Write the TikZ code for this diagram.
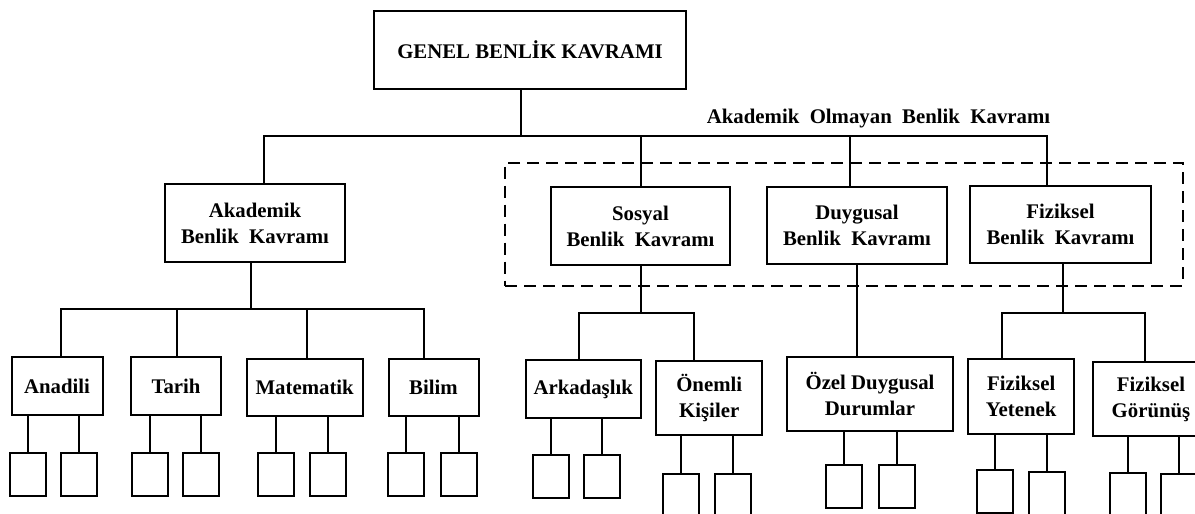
\documentclass[tikz,border=0pt]{standalone}
\usepackage{fontspec}
\setmainfont{Liberation Serif}
\newcommand\wsp{\hspace{0.5em}}
\tikzset{
  box/.style={draw, line width=2pt, inner sep=0pt, align=center,
    font=\bfseries\fontsize{20.8}{26}\selectfont},
  leaf/.style={draw, line width=2pt, minimum width=36pt, minimum height=43pt,
    inner sep=0pt, anchor=north},
  link/.style={line width=2pt},
  group/.style={draw, line width=2pt, dash pattern=on 12pt off 7pt, inner sep=0pt},
  caption/.style={inner sep=0pt, font=\bfseries\fontsize{20.8}{26}\selectfont},
}
\begin{document}
\begin{tikzpicture}[x=1pt,y=-1pt]
\clip (0,0) rectangle (1195,514);

% main concept
\node[box, minimum width=312pt, minimum height=78pt] (genel) at (530,50) {GENEL BENLİK KAVRAMI};

% second level
\node[box, minimum width=180pt, minimum height=78pt] (akad) at (255,223) {Akademik\\Benlik\wsp Kavramı};
\node[group, minimum width=677.4pt, minimum height=123pt] (nonacad) at (844,224) {};
\node[caption, anchor=base west] (nonacadlbl) at (706.7,123.3) {Akademik\wsp Olmayan\wsp Benlik\wsp Kavramı};
\node[box, minimum width=179pt, minimum height=78pt] (sosyal) at (640.5,226) {Sosyal\\Benlik\wsp Kavramı};
\node[box, minimum width=180pt, minimum height=77pt] (duyg) at (857,225.5) {Duygusal\\Benlik\wsp Kavramı};
\node[box, minimum width=181pt, minimum height=77pt] (fiz) at (1060.5,224.5) {Fiziksel\\Benlik\wsp Kavramı};

% third level
\node[box, minimum width=91pt, minimum height=58pt] (anadili) at (57,386) {Anadili};
\node[box, minimum width=90pt, minimum height=58pt] (tarih) at (176,386) {Tarih};
\node[box, minimum width=116pt, minimum height=57pt] (mat) at (304.7,387.7) {Matematik};
\node[box, minimum width=90pt, minimum height=57pt] (bilim) at (433.5,387.5) {Bilim};
\node[box, minimum width=115pt, minimum height=58pt] (arkadas) at (583.2,389) {Arkadaşlık};
\node[box, minimum width=106pt, minimum height=74pt] (onemli) at (709.2,397.8) {Önemli\\Kişiler};
\node[box, minimum width=166.6pt, minimum height=73.7pt] (ozel) at (870,393.8) {Özel Duygusal\\Durumlar};
\node[box, minimum width=105.7pt, minimum height=75pt] (yetenek) at (1021.2,396.5) {Fiziksel\\Yetenek};
\node[box, minimum width=117pt, minimum height=74pt] (gorunus) at (1151,399) {Fiziksel\\Görünüş};

% empty leaves
\node[leaf] (an1) at (27.7,451.5) {};
\node[leaf] (an2) at (79.3,451.5) {};
\node[leaf] (ta1) at (149.7,451.5) {};
\node[leaf] (ta2) at (201,451.5) {};
\node[leaf] (ma1) at (275.7,452) {};
\node[leaf] (ma2) at (328.3,452) {};
\node[leaf] (bi1) at (405.7,452) {};
\node[leaf] (bi2) at (458.7,452) {};
\node[leaf] (ar1) at (550.7,454) {};
\node[leaf] (ar2) at (602.3,454) {};
\node[leaf] (on1) at (681,472.7) {};
\node[leaf] (on2) at (733.3,472.7) {};
\node[leaf] (oz1) at (844.3,464.3) {};
\node[leaf] (oz2) at (897.3,464.3) {};
\node[leaf] (ye1) at (995.3,469.3) {};
\node[leaf] (ye2) at (1047,470.7) {};
\node[leaf] (go1) at (1127.7,471.7) {};
\node[leaf] (go2) at (1179.3,473) {};

% bus levels
\coordinate (bus1) at (0,136);
\coordinate (bus2) at (0,309);
\coordinate (bus3) at (0,313);

% top level connectors
\coordinate (gdown) at ([xshift=-9.3pt]genel.south);
\coordinate (akup) at ([xshift=9pt]akad.north);
\coordinate (dyup) at ([xshift=-7.3pt]duyg.north);
\coordinate (fzup) at ([xshift=-13.8pt]fiz.north);
\draw[link] (gdown) -- (gdown |- bus1);
\draw[link] (akup) -- (akup |- bus1) -- (fzup |- bus1) -- (fzup);
\draw[link] (sosyal.north) -- (sosyal.north |- bus1);
\draw[link] (dyup) -- (dyup |- bus1);

% academic branch
\coordinate (akdown) at ([xshift=-4.3pt]akad.south);
\coordinate (anup) at ([xshift=3.7pt]anadili.north);
\coordinate (taup) at ([xshift=0.7pt]tarih.north);
\coordinate (maup) at ([xshift=2pt]mat.north);
\coordinate (biup) at ([xshift=-9.2pt]bilim.north);
\draw[link] (akdown) -- (akdown |- bus2);
\draw[link] (anup) -- (anup |- bus2) -- (biup |- bus2) -- (biup);
\draw[link] (taup) -- (taup |- bus2);
\draw[link] (maup) -- (maup |- bus2);

% social branch
\coordinate (arup) at ([xshift=-3.9pt]arkadas.north);
\coordinate (onup) at ([xshift=-14.9pt]onemli.north);
\draw[link] (sosyal.south) -- (sosyal.south |- bus3);
\draw[link] (arup) -- (arup |- bus3) -- (onup |- bus3) -- (onup);

% emotional branch
\draw[link] (duyg.south) -- (duyg.south |- ozel.north);

% physical branch
\coordinate (fzdown) at ([xshift=2.8pt]fiz.south);
\coordinate (yeup) at ([xshift=-19.2pt]yetenek.north);
\coordinate (goup) at ([xshift=-6pt]gorunus.north);
\draw[link] (fzdown) -- (fzdown |- bus3);
\draw[link] (yeup) -- (yeup |- bus3) -- (goup |- bus3) -- (goup);

% leaf connectors
\foreach \p/\l in {anadili/an1, anadili/an2, tarih/ta1, tarih/ta2, mat/ma1, mat/ma2,
  bilim/bi1, bilim/bi2, arkadas/ar1, arkadas/ar2, onemli/on1, onemli/on2,
  ozel/oz1, ozel/oz2, yetenek/ye1, yetenek/ye2, gorunus/go1, gorunus/go2}
  \draw[link] (\l.north) -- (\l.north |- \p.south);
\end{tikzpicture}
\end{document}
